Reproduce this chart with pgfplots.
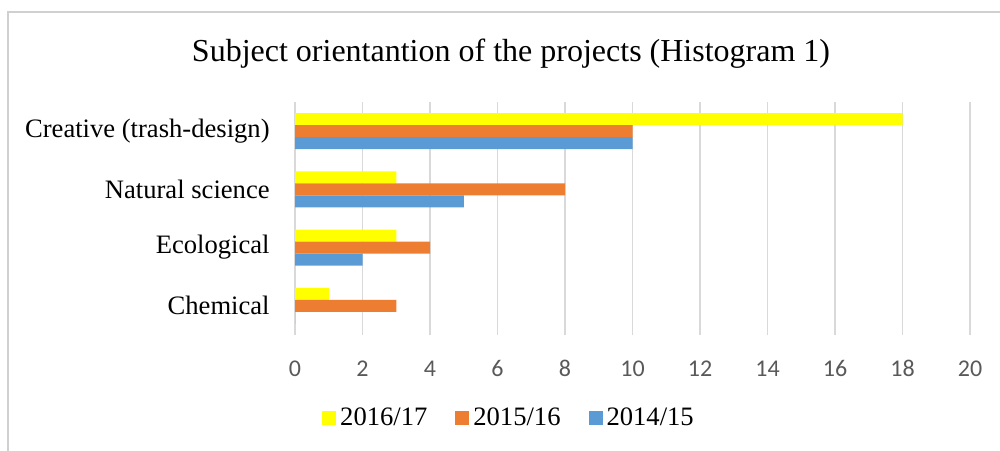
\documentclass[border=0pt]{standalone}
\usepackage{fontspec}
\setmainfont{Liberation Serif}
\newfontfamily\calibri{Carlito}
\usepackage{pgfplots}
\pgfplotsset{compat=1.18}
\definecolor{cyellow}{HTML}{FFFF00}
\definecolor{corange}{HTML}{ED7D31}
\definecolor{cblue}{HTML}{5B9BD5}
\definecolor{gridgray}{HTML}{D9D9D9}
\definecolor{tickgray}{HTML}{595959}
\definecolor{bordergray}{HTML}{D0D0D0}
\begin{document}
\begin{tikzpicture}
\node[font=\fontsize{16}{19}\selectfont] at (255.5pt,198pt) {Subject orientantion of the projects (Histogram 1)};
\begin{axis}[
  at={(147.5pt,57.5pt)}, anchor=south west,
  scale only axis, width=337.5pt, height=116.5pt,
  xbar, bar width=6pt,
  xmin=0, xmax=20, ymin=-0.5, ymax=3.5,
  xtick={0,2,...,20}, ytick={0,1,2,3},
  xticklabels={0,2,4,6,8,10,12,14,16,18,20},
  yticklabels={Chemical, Ecological, Natural science, Creative (trash-design)},
  axis line style={draw=none},
  major tick length=0pt,
  xmajorgrids, major grid style={color=gridgray, line width=0.6pt},
  xticklabel style={font=\calibri\fontsize{12}{14}\selectfont, text=tickgray, inner sep=0pt, text height=7.6pt, text depth=0pt, anchor=north, yshift=-13pt},
  yticklabel style={font=\fontsize{13.3}{16}\selectfont, inner sep=0pt, anchor=east, xshift=-12.5pt},
  legend style={at={(0.3185,-0.356)}, anchor=center, draw=none, legend columns=3, font=\fontsize{13.3}{16}\selectfont, /tikz/every even column/.append style={column sep=12pt}},
  legend image code/.code={\fill[#1] (0pt,-3.5pt) rectangle (7pt,3.5pt);},
]
\addplot[fill=cyellow, draw=none, bar shift=6pt] coordinates {(1,0) (3,1) (3,2) (18,3)};
\addplot[fill=corange, draw=none, bar shift=0pt] coordinates {(3,0) (4,1) (8,2) (10,3)};
\addplot[fill=cblue, draw=none, bar shift=-6pt] coordinates {(0,0) (2,1) (5,2) (10,3)};
\legend{2016/17, 2015/16, 2014/15}
\end{axis}
\draw[bordergray, line width=0.6pt] (4pt,-5pt) -- (4pt,219pt) -- (505pt,219pt);
\pgfresetboundingbox
\useasboundingbox (0,0) rectangle (500pt,225pt);
\end{tikzpicture}
\end{document}
